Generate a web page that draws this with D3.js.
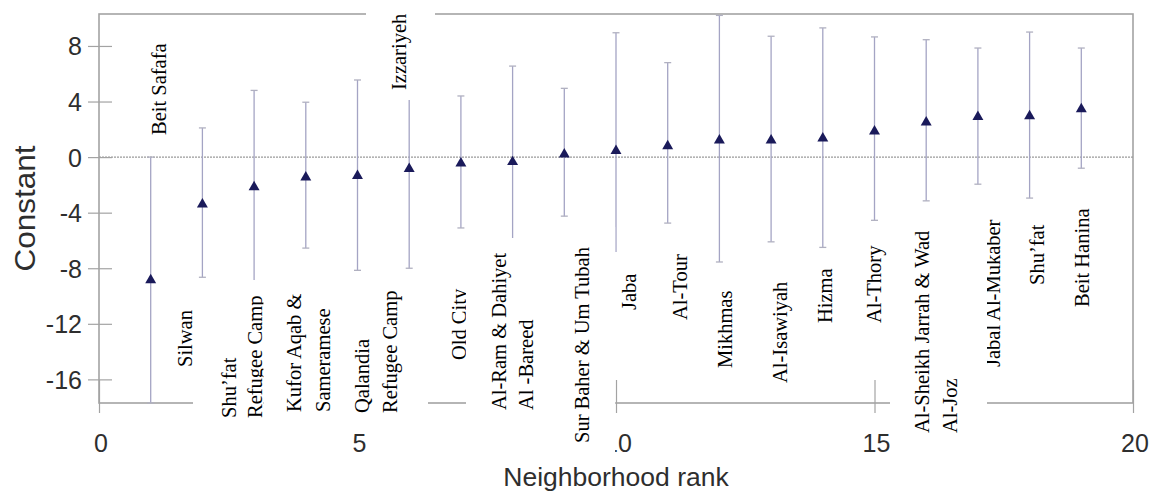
<!DOCTYPE html>
<html><head><meta charset="utf-8">
<script src="https://cdn.jsdelivr.net/npm/d3@7"></script>
<style>html,body{margin:0;padding:0;background:#fff;overflow:hidden}</style>
</head><body>
<svg id="chart" width="1167" height="494"></svg>
<script>
// ---------------- data ----------------
const ranks = [1,2,3,4,5,6,7,8,9,10,11,12,13,14,15,16,17,18,19];
const neighborhoodLines = [
  ["Beit Safafa"],
  ["Silwan"],
  ["Shu\u2019fat","Refugee Camp"],
  ["Kufor Aqab &","Sameramese"],
  ["Qalandia","Refugee Camp"],
  ["Izzariyeh"],
  ["Old City"],
  ["Al-Ram & Dahiyet","Al -Bareed"],
  ["Sur Baher & Um Tubah"],
  ["Jaba"],
  ["Al-Tour"],
  ["Mikhmas"],
  ["Al-Isawiyah"],
  ["Hizma"],
  ["Al-Thory"],
  ["Al-Sheikh Jarrah & Wad","Al-Joz"],
  ["Jabal Al-Mukaber"],
  ["Shu\u2019fat"],
  ["Beit Hanina"]
];
const constants = [-8.85,-3.4,-2.15,-1.45,-1.35,-0.85,-0.45,-0.35,0.2,0.45,0.8,1.2,1.2,1.35,1.85,2.5,2.9,2.95,3.45];
const upperCI   = [0.0,2.1,4.8,3.95,5.55,6.3,4.4,6.55,4.95,8.95,6.8,10.2,8.7,9.3,8.65,8.45,7.85,9.0,7.85];
const lowerCI   = [-17.7,-8.65,-9.1,-6.55,-8.15,-8.0,-5.1,-7.2,-4.25,-8.05,-4.75,-7.55,-6.1,-6.5,-4.55,-3.15,-1.95,-2.95,-0.8];
const xTickValues = [0,5,10,15,20];
const yTickValues = [-16,-12,-8,-4,0,4,8];
const xDomain = [0,20];
const yDomain = [-17.7,10.3];
const xTitle = "Neighborhood rank";
const yTitle = "Constant";

// ---------------- layout (annotation text boxes, pixels) ----------------
const labelLayout = [
  {baselines:[166],      bottom:135, box:[140,172,32,142]},
  {baselines:[192],      bottom:367, box:[168,193,295,375]},
  {baselines:[236,262],  bottom:418, box:[193,263.5,280,426]},
  {baselines:[301,330],  bottom:412, box:[263.5,340,280,426]},
  {baselines:[369,397],  bottom:413, box:[340,428,280,426]},
  {baselines:[406],      bottom:90,  box:[366,435,0,100]},
  {baselines:[466],      bottom:360, box:[440,468,275,370]},
  {baselines:[506,533],  bottom:410, box:[466,546,238,426]},
  {baselines:[589],      bottom:443, box:[546,615.4,227,456]},
  {baselines:[636],      bottom:310, box:[613,646,252,318]},
  {baselines:[687],      bottom:320, box:[660,695,240,328]},
  {baselines:[732],      bottom:368, box:[705,740,275,376]},
  {baselines:[787],      bottom:383, box:[760,795,265,390]},
  {baselines:[832],      bottom:323, box:[808,840,255,331]},
  {baselines:[881],      bottom:323, box:[858,890,230,331]},
  {baselines:[929,957],  bottom:433, box:[890,987,210,440]},
  {baselines:[1000],     bottom:367, box:[987,1010,200,375]},
  {baselines:[1044],     bottom:285, box:[1020,1052,212,293]},
  {baselines:[1089],     bottom:307, box:[1065,1098,190,315]}
];

const W = 1167, H = 494;
const plot = {left:99, right:1133, top:14, bottom:403};
const svg = d3.select("#chart");
svg.append("rect").attr("width",W).attr("height",H).attr("fill","#fff");

const x = d3.scaleLinear().domain(xDomain).range([plot.left, plot.right]);
const y = d3.scaleLinear().domain(yDomain).range([plot.bottom, plot.top]);

const axisColor = "#a3a3a3";
const textColor = "#2e2e2e";
const sans = "'Liberation Sans', Arial, sans-serif";
const serif = "'Liberation Serif', 'Times New Roman', serif";
const fmt = d => String(d);   // plain hyphen-minus like the reference

// frame
svg.append("rect")
  .attr("x", plot.left).attr("y", plot.top)
  .attr("width", plot.right-plot.left).attr("height", plot.bottom-plot.top)
  .attr("fill","none").attr("stroke",axisColor).attr("stroke-width",1.6);

// zero reference line
svg.append("line")
  .attr("x1", x(xDomain[0])).attr("x2", x(xDomain[1]))
  .attr("y1", y(0)).attr("y2", y(0))
  .attr("stroke","#9a9a9a").attr("stroke-width",1.2)
  .attr("stroke-dasharray","2,1");

// axes
const yAxis = svg.append("g")
  .attr("transform", `translate(${plot.left},0)`)
  .call(d3.axisLeft(y).tickValues(yTickValues).tickSize(11).tickPadding(6).tickFormat(fmt));
yAxis.select(".domain").remove();
yAxis.selectAll(".tick line").attr("x1",-11).attr("x2",13).attr("stroke",axisColor).attr("stroke-width",1.2);
yAxis.selectAll(".tick text")
  .attr("x",-17).attr("dy","0.36em")
  .attr("font-family",sans).attr("font-size",25).attr("fill",textColor);

const xAxis = svg.append("g")
  .attr("transform", `translate(0,${plot.bottom})`)
  .call(d3.axisBottom(x).tickValues(xTickValues).tickSize(10).tickFormat(fmt));
xAxis.select(".domain").remove();
xAxis.selectAll(".tick line").attr("y1",-23).attr("y2",10).attr("stroke",axisColor).attr("stroke-width",1.2);
xAxis.selectAll(".tick text")
  .attr("y",49).attr("dy",0).attr("dx",1.5)
  .attr("font-family",sans).attr("font-size",25).attr("fill",textColor);

// error bars
const barColor = "#a4a4c4";
const bars = svg.append("g");
ranks.forEach((r,i) => {
  bars.append("line")
    .attr("x1",x(r)).attr("x2",x(r))
    .attr("y1",y(upperCI[i])).attr("y2",y(lowerCI[i]))
    .attr("stroke",barColor).attr("stroke-width",1.3);
  [upperCI[i], lowerCI[i]].forEach(v => {
    bars.append("line")
      .attr("x1",x(r)-3.5).attr("x2",x(r)+3.5)
      .attr("y1",y(v)).attr("y2",y(v))
      .attr("stroke","#b0b0c0").attr("stroke-width",1.3);
  });
});

// markers
svg.append("g").selectAll("path")
  .data(ranks)
  .join("path")
  .attr("transform",(r,i)=>`translate(${x(r)},${y(constants[i])})`)
  .attr("d", d3.symbol(d3.symbolTriangle, 52))
  .attr("fill","#1a1a5a");

// axis titles
svg.append("text")
  .attr("x", x(10)).attr("y", 486)
  .attr("text-anchor","middle")
  .attr("font-family",sans).attr("font-size",26.5).attr("fill",textColor)
  .text(xTitle);
svg.append("text")
  .attr("transform",`translate(35,${(plot.top+plot.bottom)/2}) rotate(-90)`)
  .attr("text-anchor","middle")
  .attr("font-family",sans).attr("font-size",29).attr("fill",textColor)
  .attr("textLength",126).attr("lengthAdjust","spacingAndGlyphs")
  .text(yTitle);

// neighborhood labels in white text boxes
const defs = svg.append("defs");
const labels = svg.append("g");
labelLayout.forEach((L,i) => {
  const [x0,x1,y0,y1] = L.box;
  defs.append("clipPath").attr("id","clip"+i)
    .append("rect").attr("x",x0).attr("y",y0).attr("width",x1-x0).attr("height",y1-y0);
  const g = labels.append("g").attr("clip-path",`url(#clip${i})`);
  g.append("rect").attr("x",x0).attr("y",y0).attr("width",x1-x0).attr("height",y1-y0).attr("fill","#fff");
  neighborhoodLines[i].forEach((line,j) => {
    g.append("text")
      .attr("transform",`translate(${L.baselines[j]},${L.bottom}) rotate(-90)`)
      .attr("font-family",serif).attr("font-size",20.5).attr("fill","#000")
      .text(line);
  });
});
</script>
</body></html>
